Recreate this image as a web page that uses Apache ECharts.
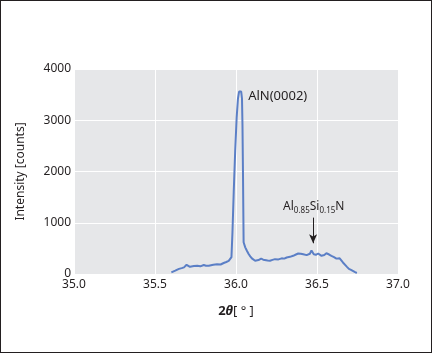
<!DOCTYPE html>
<html>
<head>
<meta charset="utf-8">
<script src="https://cdn.jsdelivr.net/npm/echarts@6/dist/echarts.min.js"></script>
<style>
  html, body { margin: 0; padding: 0; background: #fff; }
  #chart { width: 432px; height: 353px; box-sizing: border-box; border: 1px solid #231f20; }
</style>
</head>
<body>
<div id="chart"></div>
<script>
// 2θ [°] and intensity [counts]
const twoTheta = [35.601, 35.625, 35.648, 35.665, 35.679, 35.695, 35.705, 35.716, 35.74, 35.761, 35.78,
  35.801, 35.815, 35.832, 35.86, 35.883, 35.905, 35.924, 35.94, 35.955, 35.965, 35.972,
  35.978, 35.986, 35.995, 36.004, 36.012, 36.019, 36.026, 36.032, 36.037, 36.04, 36.043, 36.047,
  36.057, 36.068, 36.078, 36.088, 36.098, 36.108, 36.118, 36.13, 36.139, 36.155, 36.168, 36.18,
  36.195, 36.21, 36.225, 36.241, 36.262, 36.282, 36.298, 36.313, 36.333, 36.353, 36.37, 36.384,
  36.4, 36.415, 36.436, 36.456, 36.466, 36.48, 36.493, 36.507, 36.528, 36.545, 36.558, 36.575,
  36.589, 36.605, 36.62, 36.64, 36.66, 36.672, 36.685, 36.697, 36.71, 36.722, 36.735, 36.746];
const counts = [30, 65, 100, 115, 130, 180, 150, 140, 155, 160, 150,
  175, 160, 160, 180, 190, 185, 215, 235, 255, 270, 330,
  800, 1600, 2400, 3050, 3420, 3560, 3590, 3560, 3420, 2900, 2000, 620,
  520, 450, 390, 345, 305, 275, 258, 262, 272, 300, 280, 272,
  265, 258, 275, 290, 285, 305, 300, 322, 335, 355, 380, 400,
  395, 385, 368, 395, 460, 385, 375, 400, 355, 370, 405, 380,
  355, 330, 300, 305, 225, 190, 140, 100, 80, 60, 35, 20];
const xTicks = [35.0, 35.5, 36.0, 36.5, 37.0];
const yTicks = [0, 1000, 2000, 3000, 4000];
const peakLabel = 'AlN(0002)';
const peakLabelAt = [36.075, 3460];
const alloyLabelAt = [36.48, 1320];
const arrowFrom = [36.476, 1100];
const arrowTo = [36.476, 600];

const ink = '#231f20';
const fontFamily = '"Noto Sans", sans-serif';

const chart = echarts.init(document.getElementById('chart'));
chart.setOption({
  animation: false,
  textStyle: { fontFamily: fontFamily },
  grid: {
    left: 73, right: 33, top: 68, bottom: 78,
    show: true, backgroundColor: '#e6e7e9', borderWidth: 0
  },
  xAxis: {
    type: 'value',
    min: xTicks[0], max: xTicks[xTicks.length - 1], interval: 0.5,
    name: '{b|2}{bi|θ}{r|[ ° ]}',
    nameLocation: 'middle', nameGap: 31,
    nameTextStyle: {
      rich: {
        b: { fontSize: 13, fontWeight: 'bold', color: ink, fontFamily: fontFamily },
        bi: { fontSize: 13, fontWeight: 'bold', fontStyle: 'italic', color: ink, fontFamily: fontFamily },
        r: { fontSize: 13, color: ink, fontFamily: fontFamily }
      }
    },
    axisLine: { show: false },
    axisTick: { show: false },
    axisLabel: { color: ink, fontSize: 12, margin: 5, formatter: v => v.toFixed(1) },
    splitLine: { show: true, lineStyle: { color: '#ffffff', width: 1 } }
  },
  yAxis: {
    type: 'value',
    min: yTicks[0], max: yTicks[yTicks.length - 1], interval: 1000,
    name: 'Intensity [counts]',
    nameLocation: 'middle', nameGap: 47, nameRotate: 90,
    nameTextStyle: { color: ink, fontSize: 12 },
    axisLine: { show: false },
    axisTick: { show: false },
    axisLabel: { color: ink, fontSize: 12, margin: 3, formatter: v => String(v) },
    splitLine: { show: true, lineStyle: { color: '#ffffff', width: 1 } }
  },
  series: [{
    type: 'line',
    data: twoTheta.map((t, i) => [t, counts[i]]),
    showSymbol: false,
    lineStyle: { color: '#5b7fc6', width: 2 },
    markPoint: {
      symbol: 'circle', symbolSize: 0,
      data: [
        {
          coord: peakLabelAt,
          label: { show: true, position: 'right', distance: 0, color: ink, fontSize: 13, formatter: peakLabel }
        },
        {
          coord: alloyLabelAt,
          label: {
            show: true, position: 'inside', color: ink,
            formatter: '{n|Al}{s|0.85}{n|Si}{s|0.15}{n|N}',
            rich: {
              n: { fontSize: 12, color: ink, fontFamily: fontFamily },
              s: { fontSize: 8, color: ink, fontFamily: fontFamily, padding: [8, 0, 0, 0] }
            }
          }
        }
      ]
    },
    markLine: {
      silent: true,
      symbol: ['none', 'arrow'], symbolSize: [6, 9],
      label: { show: false },
      lineStyle: { color: ink, width: 1, type: 'solid' },
      data: [[{ coord: arrowFrom }, { coord: arrowTo }]]
    }
  }]
});
</script>
</body>
</html>
